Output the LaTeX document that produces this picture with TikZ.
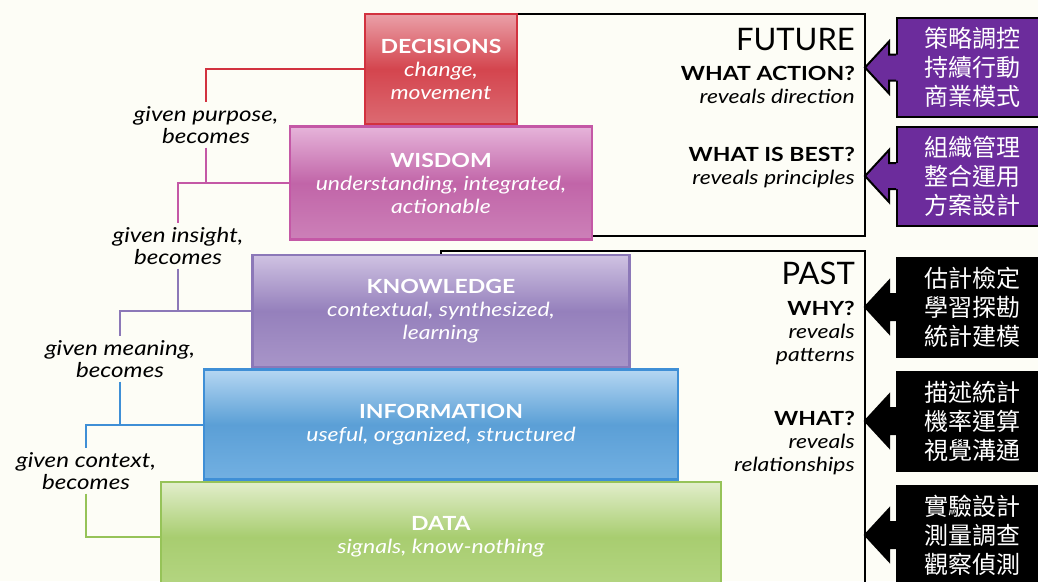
\documentclass[tikz,border=0pt]{standalone}
\usepackage{fontspec}
\setmainfont{Lato}[FakeStretch=1.18]
\newfontfamily\plainlato{Lato}
\newfontfamily\cjk{Noto Sans CJK TC}
\usetikzlibrary{positioning}
\definecolor{bgcream}{HTML}{FDFDF6}
\definecolor{decborder}{HTML}{D2323F}
\definecolor{wisborder}{HTML}{C458A6}
\definecolor{knoborder}{HTML}{8C78B8}
\definecolor{infborder}{HTML}{3F8FD6}
\definecolor{datborder}{HTML}{96C358}
\definecolor{violetbox}{HTML}{6C2C9C}
\tikzset{
        layer/.style={align=center, inner sep=0pt, line width=2.5pt, text=white, font=\fontsize{19.5}{23}\selectfont},
        % Pyramid layers, top to bottom
        layer_dec/.style={layer, draw=decborder, top color={rgb,255:red,234;green,160;blue,168}, bottom color={rgb,255:red,220;green,106;blue,114}, middle color={rgb,255:red,212;green,69;blue,78}},
        layer_wis/.style={layer, draw=wisborder, top color={rgb,255:red,230;green,180;blue,218}, bottom color={rgb,255:red,204;green,128;blue,184}, middle color={rgb,255:red,193;green,101;blue,168}},
        layer_kno/.style={layer, draw=knoborder, top color={rgb,255:red,207;green,194;blue,226}, bottom color={rgb,255:red,168;green,149;blue,200}, middle color={rgb,255:red,149;green,128;blue,188}},
        layer_inf/.style={layer, draw=infborder, top color={rgb,255:red,181;green,215;blue,242}, bottom color={rgb,255:red,114;green,176;blue,226}, middle color={rgb,255:red,91;green,159;blue,214}},
        layer_dat/.style={layer, draw=datborder, top color={rgb,255:red,226;green,238;blue,203}, bottom color={rgb,255:red,181;green,214;blue,131}, middle color={rgb,255:red,168;green,205;blue,112}},
        % Transition labels on the left
        given/.style={align=center, inner sep=4pt, font=\fontsize{20.5}{21.5}\selectfont\itshape},
        % Questions on the right
        question/.style={align=right, anchor=east, inner sep=0pt, font=\fontsize{19.5}{23}\selectfont},
        bigword/.style={anchor=east, inner sep=0pt, font=\plainlato\fontsize{31}{34}\selectfont},
        % Time frames
        timeframe/.style={draw=black, line width=2pt},
        % Elbow connectors
        link/.style={line width=2pt},
        % Chinese callouts
        callout/.style={align=center, inner sep=0pt, minimum width=151pt, minimum height=99pt, text=white, draw=black, line width=2pt, font=\cjk\fontsize{24}{29}\selectfont}
}
\begin{document}
\begin{tikzpicture}[x=1pt, y=-1pt]
    \useasboundingbox (0,0) rectangle (1038,581);
    \fill[bgcream] (0,0) rectangle (1038,581);
    \clip (0,0) rectangle (1038,581);

    % future and past frames
    \draw[timeframe] (441,14) rectangle (865,236);
    \draw[timeframe] (441,251) rectangle (865,620);

    % the pyramid
    \node[layer_dec, minimum width=152pt, minimum height=110pt] (dec) at (441,69)
        {\textbf{DECISIONS}\\\textit{change,}\\\textit{movement}};
    \node[layer_wis, minimum width=302pt, minimum height=113pt, below=0pt of dec] (wis)
        {\textbf{WISDOM}\\\textit{understanding, integrated,}\\\textit{actionable}};
    \node[layer_kno, minimum width=377pt, minimum height=112pt, below=13pt of wis] (kno)
        {\textbf{KNOWLEDGE}\\\textit{contextual, synthesized,}\\\textit{learning}};
    \node[layer_inf, minimum width=474pt, minimum height=110pt, below=0pt of kno] (inf)
        {\textbf{INFORMATION}\\\textit{useful, organized, structured}};
    \node[layer_dat, minimum width=560pt, minimum height=110pt, below=0pt of inf] (dat)
        {\textbf{DATA}\\\textit{signals, know-nothing}};

    % left labels
    \node[given] (purpose) at (206,125) {given purpose,\\becomes};
    \node[given] (insight) at (178,246) {given insight,\\becomes};
    \node[given] (meaning) at (120,359) {given meaning,\\becomes};
    \node[given] (context) at (86,471) {given context,\\becomes};

    \draw[link, decborder] (dec.west) -| (purpose.north);
    \draw[link, wisborder] (purpose.south) |- (wis.west);
    \draw[link, wisborder] (wis.west) -| (insight.north);
    \draw[link, knoborder] (insight.south) |- (kno.west);
    \draw[link, knoborder] (kno.west) -| (meaning.north);
    \draw[link, infborder] (meaning.south) |- (inf.west);
    \draw[link, infborder] (inf.west) -| (context.north);
    \draw[link, datborder] (context.south) |- (dat.west);

    % right side questions
    \node[bigword] (future) at (855,40) {FUTURE};
    \node[question] (action) at (855,85) {\textbf{WHAT ACTION?}\\\textit{reveals direction}};
    \node[question] (best) at (855,168) {\textbf{WHAT IS BEST?}\\\textit{reveals principles}};
    \node[bigword] (past) at (855,273) {PAST};
    \node[question] (why) at (855,333) {\textbf{WHY?}\\\textit{reveals}\\\textit{patterns}};
    \node[question] (what) at (855,443) {\textbf{WHAT?}\\\textit{reveals}\\\textit{relationships}};

    % callouts
    \node[callout, fill=violetbox] (c1) at (972.5,67.5) {策略調控\\持續行動\\商業模式};
    \node[callout, fill=violetbox] (c2) at (972.5,176) {組織管理\\整合運用\\方案設計};
    \node[callout, fill=black] (c3) at (972.5,307) {估計檢定\\學習探勘\\統計建模};
    \node[callout, fill=black] (c4) at (972.5,421) {描述統計\\機率運算\\視覺溝通};
    \node[callout, fill=black] (c5) at (972.5,535) {實驗設計\\測量調查\\觀察偵測};

    \foreach \c/\col in {c1/violetbox, c2/violetbox, c3/black, c4/black, c5/black} {
        \fill[\col] (\c.west) ++(2,-13) -- ++(-9,0) -- ++(0,-13) -- ++(-24,26) -- ++(24,26) -- ++(0,-13) -- ++(9,0) -- cycle;
        \draw[line width=2pt] (\c.west) ++(0,-13) -- ++(-7,0) -- ++(0,-13) -- ++(-24,26) -- ++(24,26) -- ++(0,-13) -- ++(7,0);
    }
\end{tikzpicture}
\end{document}
